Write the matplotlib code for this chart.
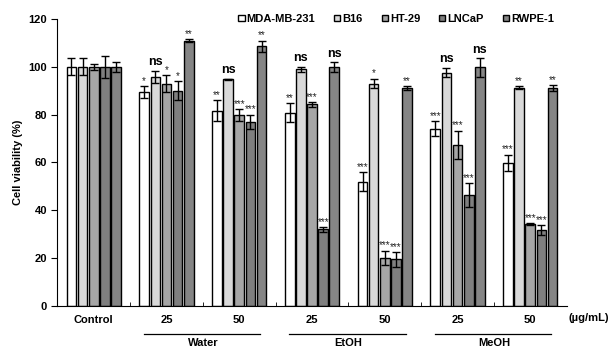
import matplotlib
matplotlib.use("Agg")
import matplotlib.pyplot as plt
import numpy as np
from matplotlib.lines import Line2D
from matplotlib.patches import Patch

plt.rcParams['font.family'] = ['Liberation Sans', 'DejaVu Sans']
plt.rcParams['font.weight'] = 'bold'

groups = ["Control", "25", "50", "25", "50", "25", "50"]
solvents = ["Water", "EtOH", "MeOH"]
cells = ["MDA-MB-231", "B16", "HT-29", "LNCaP", "RWPE-1"]
colors = ["#ffffff", "#d9d9d9", "#a6a6a6", "#7f7f7f", "#858585"]

mda = [100, 89.3, 81.6, 80.8, 51.9, 74.1, 59.7]
b16 = [100, 95.8, 94.7, 99.0, 93.0, 97.6, 91.2]
ht29 = [100, 93.0, 79.7, 84.3, 20.0, 67.2, 34.2]
lncap = [100, 90.0, 77.0, 32.0, 19.4, 46.3, 31.7]
rwpe = [100, 111.0, 108.5, 100.0, 91.0, 99.7, 91.0]

mda_err = [3.5, 2.5, 4.5, 4.0, 4.0, 3.0, 3.5]
b16_err = [3.5, 2.5, 0.3, 1.0, 2.0, 2.0, 0.6]
ht29_err = [1.2, 3.5, 2.5, 1.0, 3.0, 6.0, 0.3]
lncap_err = [4.5, 4.0, 3.0, 1.0, 3.0, 5.0, 2.0]
rwpe_err = [2.0, 0.5, 2.5, 2.0, 0.8, 4.0, 1.3]

mda_sig = ["", "*", "**", "**", "***", "***", "***"]
b16_sig = ["", "ns", "ns", "ns", "*", "ns", "**"]
ht29_sig = ["", "*", "***", "***", "***", "***", "***"]
lncap_sig = ["", "*", "***", "***", "***", "***", "***"]
rwpe_sig = ["", "**", "**", "ns", "**", "ns", "**"]

values = [mda, b16, ht29, lncap, rwpe]
errors = [mda_err, b16_err, ht29_err, lncap_err, rwpe_err]
sigs = [mda_sig, b16_sig, ht29_sig, lncap_sig, rwpe_sig]

fig = plt.figure(figsize=(6.15, 3.48), dpi=100)
ax = fig.add_axes([0.0932, 0.1216, 0.8283, 0.8238])

x = np.arange(len(groups))
step = 0.153
width = 0.133
for i, (vals, errs, sg) in enumerate(zip(values, errors, sigs)):
    pos = x + (i - 2) * step
    ax.bar(pos, vals, width, color=colors[i], edgecolor='black', linewidth=1.0,
           label=cells[i], zorder=2)
    ax.errorbar(pos, vals, yerr=errs, fmt='none', ecolor='black', elinewidth=1.0,
                capsize=3, capthick=1.0, zorder=3)
    for p, v, e, s in zip(pos, vals, errs, sg):
        if not s:
            continue
        if s == "ns":
            ax.text(p, v + e + 1.0, s, ha='center', va='bottom', fontsize=9,
                    fontweight='bold')
        else:
            ax.text(p, v + e + 0.1, s, ha='center', va='bottom', fontsize=7,
                    fontweight='normal', color='#222222')

ax.set_xlim(-0.5, 6.5)
ax.set_ylim(0, 120)
ax.set_yticks(np.arange(0, 121, 20))
ax.set_xticks(x)
ax.set_xticklabels(groups, fontsize=8, fontweight='bold')
ax.set_xticks(np.arange(0.5, 6.5, 1), minor=True)
ax.tick_params(axis='x', which='major', length=0, pad=7)
ax.tick_params(axis='x', which='minor', direction='in', length=3)
ax.tick_params(axis='y', direction='out', length=4, labelsize=8)
for lab in ax.get_yticklabels():
    lab.set_fontweight('bold')
ax.spines['top'].set_visible(False)
ax.spines['right'].set_visible(False)
ax.set_ylabel("Cell viability (%)", fontsize=8, fontweight='bold', labelpad=4)

ax.text(1.044, -0.043, "(µg/mL)", transform=ax.transAxes, ha='center', va='center',
        fontsize=8, fontweight='bold')

trans = ax.get_xaxis_transform()
for k, name in enumerate(solvents):
    c1, c2 = 1 + 2 * k, 2 + 2 * k
    ax.add_line(Line2D([c1 - 0.31, c2 + 0.29], [-0.098, -0.098], transform=trans,
                       color='black', lw=0.9, clip_on=False))
    ax.text((c1 + c2) / 2, -0.13, name, transform=trans, ha='center', va='center',
            fontsize=8, fontweight='bold')

handles = [Patch(facecolor=colors[i], edgecolor='black', linewidth=1.0) for i in range(5)]
leg = ax.legend(handles, cells, ncol=5, loc='center right', bbox_to_anchor=(0.975, 1.0),
                frameon=False, fontsize=8, handlelength=0.55, handleheight=0.55,
                handletextpad=0.2, columnspacing=1.7, borderaxespad=0, borderpad=0)
for t in leg.get_texts():
    t.set_fontweight('bold')

fig.savefig("out.png", dpi=100)
